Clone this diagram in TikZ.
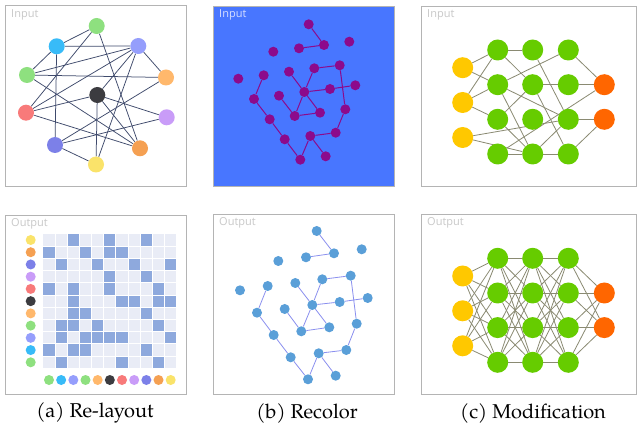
\documentclass[tikz,border=0pt]{standalone}
\usepackage{fontspec}
\newfontfamily\capfont{texgyrepagella-regular.otf}
\newfontfamily\lblfont{Open Sans}
\definecolor{boxgray}{HTML}{B4B4B4}
\definecolor{lblgray}{HTML}{C8C8C8}
\definecolor{lblblue}{HTML}{D6DEFF}
\definecolor{bgblue}{HTML}{4876FF}
\definecolor{cgreen}{HTML}{8EE07F}
\definecolor{ccyan}{HTML}{38BBF8}
\definecolor{cperi}{HTML}{959EFC}
\definecolor{clorange}{HTML}{FFB86C}
\definecolor{cdark}{HTML}{3C3C40}
\definecolor{cred}{HTML}{F87A7A}
\definecolor{clav}{HTML}{C99CF8}
\definecolor{cindigo}{HTML}{7C80E8}
\definecolor{corange}{HTML}{F5A052}
\definecolor{cyellow}{HTML}{FAE36A}
\definecolor{gedge}{HTML}{3F4A6C}
\definecolor{cellbg}{HTML}{E9ECF6}
\definecolor{cellon}{HTML}{8EA9DD}
\definecolor{purp}{HTML}{8C0A8C}
\definecolor{sblue}{HTML}{5A9FD8}
\definecolor{sedge}{HTML}{8A8FEF}
\definecolor{nnyellow}{HTML}{FFC800}
\definecolor{nngreen}{HTML}{66CC00}
\definecolor{nnorange}{HTML}{FF6600}
\definecolor{nnedge}{HTML}{8A8A72}
\pgfdeclarelayer{bg}
\pgfdeclarelayer{edges}
\pgfsetlayers{bg,edges,main}
\begin{document}
\begin{tikzpicture}[x=1pt,y=-1pt,
  panel/.style={draw=boxgray, line width=0.8pt},
  lbl/.style={anchor=north west, inner sep=0pt, font=\lblfont\fontsize{11}{13}\selectfont, text=lblgray},
  gn/.style={circle, inner sep=0pt, minimum size=16pt, fill=#1},
  sn/.style={circle, inner sep=0pt, minimum size=10pt, fill=#1},
  nn/.style={circle, inner sep=0pt, minimum size=21pt, fill=#1},
  gline/.style={draw=gedge, line width=0.75pt},
  pline/.style={draw=purp, line width=1pt},
  bline/.style={draw=sedge, line width=0.8pt},
  nline/.style={draw=nnedge, line width=0.8pt},
  captext/.style={font=\capfont\fontsize{20}{23}\selectfont, inner sep=0pt}
]
\useasboundingbox (0,0) rectangle (637,430);

% ---------- panel boxes ----------
\begin{pgfonlayer}{bg}
\fill[white] (0,0) rectangle (637,430);
\draw[panel] (5,5) rectangle (186,186);
\draw[panel, fill=bgblue] (213,6) rectangle (394,186);
\draw[panel] (421,6) rectangle (636,186);
\draw[panel] (5,215) rectangle (186,394);
\draw[panel] (213,214) rectangle (394,394);
\draw[panel] (421,214) rectangle (636,394);
\end{pgfonlayer}

\node[lbl] (lin1) at (11,9.5) {Input};
\node[lbl, text=lblblue] (lin2) at (219,9.5) {Input};
\node[lbl] (lin3) at (427,9.5) {Input};
\node[lbl] (lout1) at (11,218.5) {Output};
\node[lbl] (lout2) at (219,217.5) {Output};
\node[lbl] (lout3) at (427,217.5) {Output};

% ---------- (a) input graph ----------
\node[gn=cgreen] (G1) at (96.7,26) {};
\node[gn=ccyan] (C) at (56.7,46.3) {};
\node[gn=cperi] (P) at (138.3,46) {};
\node[gn=cgreen] (G2) at (27,75) {};
\node[gn=clorange] (O1) at (166,77.5) {};
\node[gn=cdark] (K) at (97.3,95) {};
\node[gn=cred] (R) at (26,112.7) {};
\node[gn=clav] (L) at (166.7,117.3) {};
\node[gn=cindigo] (B) at (55,145) {};
\node[gn=corange] (O2) at (140,148.3) {};
\node[gn=cyellow] (Y) at (96,164.5) {};
\begin{pgfonlayer}{edges}
\foreach \a/\b in {G1/C, G1/R, G1/O2, C/P, C/G2, C/B, P/G2, P/O1, P/K, P/R, P/Y,
  G2/O1, G2/O2, O1/B, K/R, K/L, K/O2, K/Y, R/O2, L/B, B/Y}
  \draw[gline] (\a) -- (\b);
\end{pgfonlayer}

% ---------- (a) output matrix ----------
\foreach \i in {1,...,11}
  \foreach \j in {1,...,11}
    \fill[cellbg] ({49+12.17*(\j-1)-5.6},{240+12.23*(\i-1)-5.6}) rectangle ++(11.2,11.2);
\foreach \i/\jlist in {1/{3,6,9}, 2/{1,4,6,7}, 3/{2,5,8,11}, 4/{6,9}, 5/{1,3,6,10},
  6/{3,7,8,10,11}, 7/{3,4,9}, 8/{2,3,5,10}, 9/{2,4,5,6,7,11}, 10/{1,3,4,9}, 11/{2,7,10}}
  \foreach \j in \jlist
    \fill[cellon] ({49+12.17*(\j-1)-5.6},{240+12.23*(\i-1)-5.6}) rectangle ++(11.2,11.2);
\foreach \c [count=\i] in {cyellow,corange,cindigo,clav,cred,cdark,clorange,cgreen,cperi,ccyan,cgreen}
  \node[sn=\c] (row\i) at (30.7,{240+12.23*(\i-1)}) {};
\foreach \c [count=\j] in {cgreen,ccyan,cperi,cgreen,clorange,cdark,cred,clav,cindigo,corange,cyellow}
  \node[sn=\c] (col\j) at ({49+12.17*(\j-1)},380) {};

% ---------- (b) input ----------
\foreach \n/\x/\y in {1/308.7/24.3, 2/324/45, 3/299/48.3, 4/349.3/41.7, 5/273.3/51.7,
  6/238.3/78.7, 7/263.7/75.3, 8/289/71.7, 9/314.3/68.3, 10/339.7/65.3, 11/355.3/85.3,
  12/330/89, 13/304.3/92, 14/279/95.7, 15/254/99, 16/320/112.7, 17/294.7/116,
  18/345.3/109.3, 19/269.7/119.3, 20/335.7/132.7, 21/310.3/136, 22/284.7/139.3,
  23/325.7/156.3, 24/300.3/159.7}
  \node[sn=purp] (p\n) at (\x,\y) {};
% ---------- (b) output ----------
\foreach \n/\x/\y in {1/316.7/231, 2/334/253.3, 3/306/257.3, 4/361.7/249.3, 5/278.3/261,
  6/240/290.3, 7/267.7/286, 8/295.3/283, 9/322.3/279.3, 10/350.7/275.7, 11/367.7/298,
  12/339.7/302, 13/312.3/305, 14/284.7/309, 15/257/312.7, 16/329.3/327.3, 17/301.3/331.3,
  18/356.7/323.7, 19/273.7/335, 20/346.3/350, 21/318.7/353.3, 22/290.7/357.3,
  23/335.7/375.7, 24/308/379.3}
  \node[sn=sblue] (r\n) at (\x,\y) {};
\begin{pgfonlayer}{edges}
\foreach \a/\b in {1/2, 2/3, 7/15, 15/19, 19/22, 22/24, 24/21, 21/23, 21/20, 20/18,
  18/10, 10/9, 9/13, 8/13, 13/12, 12/11, 13/16, 13/17, 17/16, 14/17} {
  \draw[pline] (p\a) -- (p\b);
  \draw[bline] (r\a) -- (r\b);
}
\end{pgfonlayer}

% ---------- (c) input ----------
\foreach \k/\y in {1/67.7, 2/102.5, 3/137.5} \node[nn=nnyellow] (y\k) at (462.7,\y) {};
\foreach \k/\y in {1/50, 2/84.7, 3/119.3, 4/154} {
  \node[nn=nngreen] (a\k) at (497.7,\y) {};
  \node[nn=nngreen] (b\k) at (532.7,\y) {};
  \node[nn=nngreen] (c\k) at (568.3,\y) {};
}
\node[nn=nnorange] (q1) at (604.3,84.7) {};
\node[nn=nnorange] (q2) at (604.3,119.3) {};
\begin{pgfonlayer}{edges}
\foreach \a/\b in {y1/a1, y1/a2, y2/a1, y2/a2, y2/a3, y3/c3, y3/b4, a1/b1, a1/b2,
  a2/c1, a2/c3, a2/b4, a3/b2, a3/b4, a4/b4, a4/q1, b1/c3, b2/c2, b2/c4, b4/c3,
  b4/c4, c1/q1, c2/q1, c3/q2, c4/q2}
  \draw[nline] (\a) -- (\b);
\end{pgfonlayer}

% ---------- (c) output ----------
\foreach \k/\y in {1/276, 2/310.8, 3/345.8} \node[nn=nnyellow] (my\k) at (462.7,\y) {};
\foreach \k/\y in {1/258.3, 2/293, 3/327.6, 4/362.3} {
  \node[nn=nngreen] (ma\k) at (497.7,\y) {};
  \node[nn=nngreen] (mb\k) at (532.7,\y) {};
  \node[nn=nngreen] (mc\k) at (568.3,\y) {};
}
\node[nn=nnorange] (mq1) at (604.3,293) {};
\node[nn=nnorange] (mq2) at (604.3,327.6) {};
\begin{pgfonlayer}{edges}
\foreach \i in {1,2,3} \foreach \j in {1,...,4} \draw[nline] (my\i) -- (ma\j);
\foreach \i in {1,...,4} \foreach \j in {1,...,4} {
  \draw[nline] (ma\i) -- (mb\j);
  \draw[nline] (mb\i) -- (mc\j);
}
\foreach \i in {1,...,4} \foreach \j in {1,2} \draw[nline] (mc\i) -- (mq\j);
\end{pgfonlayer}

% ---------- captions ----------
\node[captext] (capa) at (95,413) {(a) Re-layout};
\node[captext] (capb) at (307,413) {(b) Recolor};
\node[captext] (capc) at (533,413) {(c) Modification};
\end{tikzpicture}
\end{document}
